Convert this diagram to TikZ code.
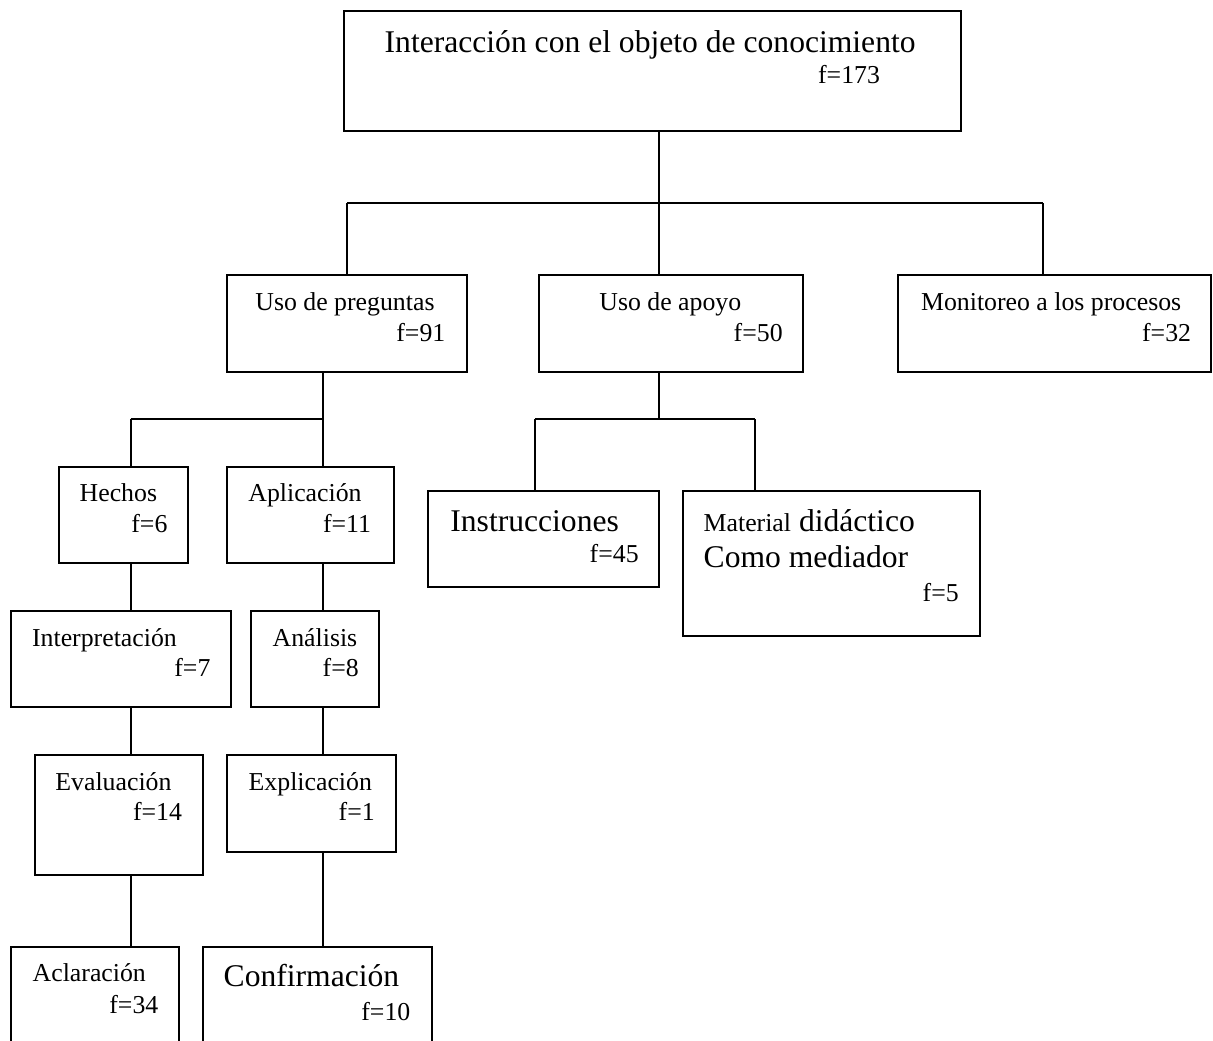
\documentclass[tikz,border=0pt]{standalone}
\usepackage{fontspec}
\setmainfont{Liberation Serif}
\usetikzlibrary{fit}
\newcommand\smallf{\fontsize{12.9pt}{15.5pt}\selectfont}
\newcommand\bigf{\fontsize{15.8pt}{18pt}\selectfont}
\begin{document}
\begin{tikzpicture}[x=0.5pt,y=-0.5pt,
  box/.style={draw, line width=1.1pt, inner sep=0pt},
  wire/.style={draw, line width=0.9pt},
  lbl/.style={anchor=base west, inner sep=0pt, font=\smallf},
  lblbig/.style={anchor=base west, inner sep=0pt, font=\bigf}]
\clip (0,0) rectangle (1213,1040);
\fill[white] (0,0) rectangle (1213,1040);

% boxes
\node[box, fit={(344,11) (961,130.7)}] (top) {};
\node[box, fit={(226.7,275) (467.3,371.7)}] (pre) {};
\node[box, fit={(539,275) (803.3,371.7)}] (apo) {};
\node[box, fit={(898.3,275) (1211,371.7)}] (mon) {};
\node[box, fit={(58.7,467.3) (188.3,562.7)}] (hec) {};
\node[box, fit={(226.7,467.3) (394.3,562.7)}] (apl) {};
\node[box, fit={(10.7,610.7) (231,706.7)}] (int) {};
\node[box, fit={(250.7,610.7) (379.3,706.7)}] (ana) {};
\node[box, fit={(34.7,755) (203.3,875)}] (eva) {};
\node[box, fit={(226.7,755) (396,851.7)}] (exp) {};
\node[box, fit={(10.7,947.3) (179.3,1060)}] (acl) {};
\node[box, fit={(203,947.3) (431.7,1060)}] (con) {};
\node[box, fit={(428.3,491) (659.3,587.3)}] (ins) {};
\node[box, fit={(683,491) (980,635.7)}] (mat) {};

% texts
\node[lblbig] (top-a) at (384.3,52) {Interacción con el objeto de conocimiento};
\node[lbl] (top-b) at (817.7,83.3) {f=173};
\node[lbl] (pre-a) at (255,310) {Uso de preguntas};
\node[lbl] (pre-b) at (396,341) {f=91};
\node[lbl] (apo-a) at (599,310) {Uso de apoyo};
\node[lbl] (apo-b) at (733.3,341) {f=50};
\node[lbl] (mon-a) at (920.7,310) {Monitoreo a los procesos};
\node[lbl] (mon-b) at (1141.7,341) {f=32};
\node[lbl] (hec-a) at (79.3,501.7) {Hechos};
\node[lbl] (hec-b) at (131,532.7) {f=6};
\node[lbl] (apl-a) at (248,501.7) {Aplicación};
\node[lbl] (apl-b) at (322.7,532.7) {f=11};
\node[lbl] (int-a) at (31.7,646) {Interpretación};
\node[lbl] (int-b) at (174,676.7) {f=7};
\node[lbl] (ana-a) at (272.3,646) {Análisis};
\node[lbl] (ana-b) at (322.3,676.7) {f=8};
\node[lbl] (eva-a) at (55,790) {Evaluación};
\node[lbl] (eva-b) at (132.7,820.7) {f=14};
\node[lbl] (exp-a) at (248.3,790) {Explicación};
\node[lbl] (exp-b) at (338.3,820.7) {f=1};
\node[lbl] (acl-a) at (32.3,981.7) {Aclaración};
\node[lbl] (acl-b) at (109,1013.3) {f=34};
\node[lblbig] (con-a) at (223.3,986.7) {Confirmación};
\node[lbl] (con-b) at (361,1020) {f=10};
\node[lblbig] (ins-a) at (450,531) {Instrucciones};
\node[lbl] (ins-b) at (589.3,562.7) {f=45};
\node[lblbig] (mat-a) at (703.3,531) {{\smallf Material} didáctico};
\node[lblbig] (mat-b) at (703.3,567.7) {Como mediador};
\node[lbl] (mat-c) at (922.3,601) {f=5};

% connectors, level 1
\coordinate (j0) at (659.3,203.3);
\coordinate (j0l) at (347,203.3);
\coordinate (j0r) at (1043.3,203.3);
\draw[wire] (top.south -| j0) -- (j0);
\draw[wire] (j0l) -- (j0r);
\draw[wire] (j0l) -- (j0l |- pre.north);
\draw[wire] (j0) -- (j0 |- apo.north);
\draw[wire] (j0r) -- (j0r |- mon.north);

% Uso de preguntas branch
\coordinate (j1) at (322.7,419.3);
\coordinate (j1l) at (130.7,419.3);
\draw[wire] (pre.south -| j1) -- (j1);
\draw[wire] (j1l) -- (j1);
\draw[wire] (j1l) -- (j1l |- hec.north);
\draw[wire] (j1) -- (j1 |- apl.north);

% left column
\draw[wire] (hec.south -| j1l) -- (int.north -| j1l);
\draw[wire] (int.south -| j1l) -- (eva.north -| j1l);
\draw[wire] (eva.south -| j1l) -- (acl.north -| j1l);

% middle column
\draw[wire] (apl.south -| j1) -- (ana.north -| j1);
\draw[wire] (ana.south -| j1) -- (exp.north -| j1);
\draw[wire] (exp.south -| j1) -- (con.north -| j1);

% Uso de apoyo branch
\coordinate (j2) at (659.3,419.3);
\coordinate (j2l) at (535,419.3);
\coordinate (j2r) at (755,419.3);
\draw[wire] (apo.south -| j2) -- (j2);
\draw[wire] (j2l) -- (j2r);
\draw[wire] (j2l) -- (j2l |- ins.north);
\draw[wire] (j2r) -- (j2r |- mat.north);
\end{tikzpicture}
\end{document}
